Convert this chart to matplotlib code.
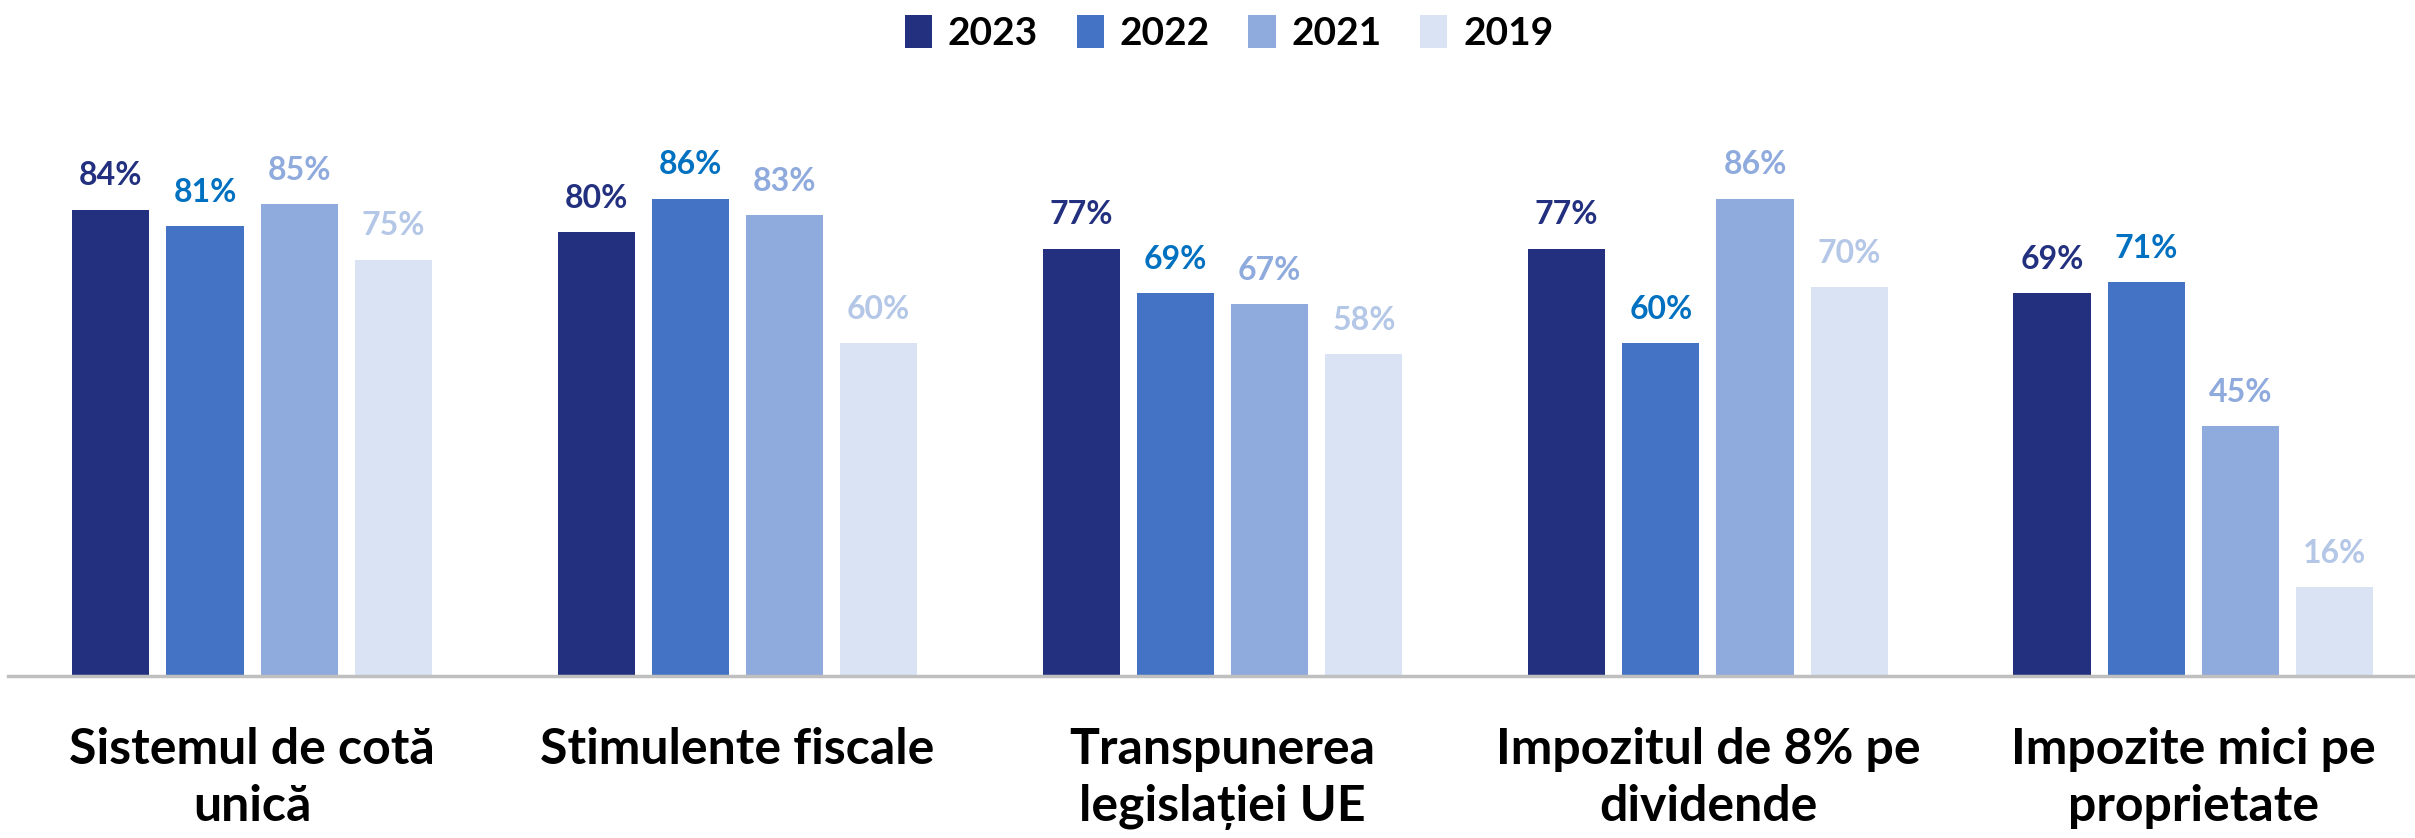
import matplotlib
matplotlib.use("Agg")
import matplotlib.pyplot as plt
import numpy as np

categories = ["Sistemul de cotă\nunică", "Stimulente fiscale", "Transpunerea\nlegislației UE",
              "Impozitul de 8% pe\ndividende", "Impozite mici pe\nproprietate"]
years = ["2023", "2022", "2021", "2019"]
v2023 = [84, 80, 77, 77, 69]
v2022 = [81, 86, 69, 60, 71]
v2021 = [85, 83, 67, 86, 45]
v2019 = [75, 60, 58, 70, 16]
series = [v2023, v2022, v2021, v2019]

bar_colors = ["#22307F", "#4472C4", "#8FAADC", "#DAE3F3"]
label_colors = ["#22307F", "#0070C0", "#8FAADC", "#B4C7E7"]

plt.rcParams['font.family'] = ['Lato', 'DejaVu Sans']

fig = plt.figure(figsize=(24.15, 8.38), dpi=100)
ax = fig.add_axes([8/2415, 1 - 676/838, 1 - 8/2415, 555/838])

x = np.arange(len(categories))
step = 0.194
width = 0.159
for i, (vals, c, lc, yr) in enumerate(zip(series, bar_colors, label_colors, years)):
    pos = x + (i - 1.5) * step
    bars = ax.bar(pos, vals, width=width, color=c, label=yr, zorder=2)
    for b, v in zip(bars, vals):
        ax.annotate(f"{v}%", (b.get_x() + b.get_width() / 2, v), xytext=(0, 14),
                    textcoords="offset points", ha="center", va="bottom",
                    fontsize=23, fontweight="bold", color=lc)

ax.set_xlim(-0.503, 4.457)
ax.set_ylim(0, 100)
ax.set_xticks(x)
ax.set_xticklabels(categories, fontsize=36, fontweight="bold", linespacing=1.32)
ax.tick_params(axis="x", length=0, pad=37)
ax.set_yticks([])
for s in ["top", "right", "left"]:
    ax.spines[s].set_visible(False)
ax.spines["bottom"].set_color("#BFBFBF")
ax.spines["bottom"].set_linewidth(2.5)
ax.spines["bottom"].set_zorder(3)

leg = fig.legend(loc="center", bbox_to_anchor=(1229/2415, 1 - 33/838), ncol=4, frameon=False,
                 prop={"size": 28, "weight": "bold"}, handlelength=0.7, handleheight=0.95,
                 handletextpad=0.4, columnspacing=1.0, borderaxespad=0)

fig.savefig("out.png", dpi=100)
